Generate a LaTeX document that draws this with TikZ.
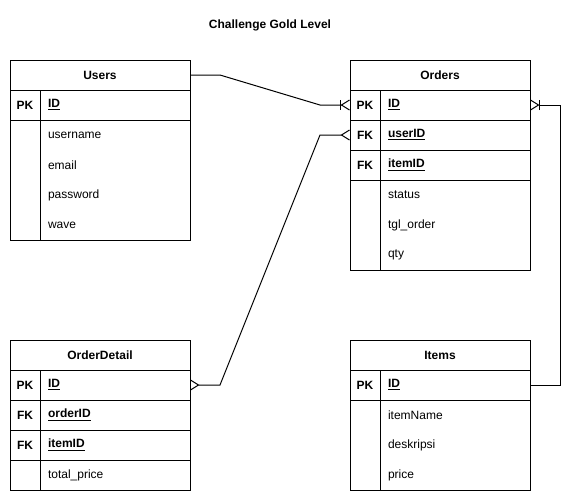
\documentclass[tikz,border=0pt]{standalone}
\usepackage{fontspec}
\setmainfont{Liberation Sans}
\usetikzlibrary{positioning,arrows.meta}

\tikzset{
  crowfoot/.tip={Straight Barb[reversed, length=6pt, width=7.5pt, line width=0.75pt]},
  onebar/.tip={Bar[width=7.5pt, sep=0pt, line width=0.75pt]}
}

\begin{document}
\begin{tikzpicture}[x=0.75pt, y=-0.75pt, line width=0.75pt,
  every node/.style={font=\fontsize{9}{11}\selectfont, outer sep=0pt, inner sep=0pt},
  head/.style={draw, minimum width=135pt, minimum height=22.5pt, font=\fontsize{9}{11}\selectfont\bfseries},
  key/.style={draw, minimum width=22.5pt, minimum height=22.5pt, font=\fontsize{9}{11}\selectfont\bfseries},
  field/.style={minimum height=22.5pt, text width=100.5pt, inner xsep=6pt, align=left},
  keyfield/.style={field, draw, font=\fontsize{9}{11}\selectfont\bfseries}]
  \useasboundingbox (0,0) rectangle (579,501);

  \node[font=\fontsize{9}{11}\selectfont\bfseries] (title) at (270,25) {Challenge Gold Level};

  % Users
  \node[head] (users) at (100,75) {Users};
  \node[key] (uPK) at (25,105) {PK};
  \node[keyfield, right=0pt of uPK] (uID) {\underline{ID}};
  \node[key, minimum height=90pt, below=0pt of uPK] (uKey) {};
  \node[field, anchor=north west] (uName) at (uKey.north east) {username};
  \node[field, below=0pt of uName] (uEmail) {email};
  \node[field, below=0pt of uEmail] (uPass) {password};
  \node[field, below=0pt of uPass] (uWave) {wave};
  \draw (uKey.north east) rectangle (uWave.south east);

  % Orders
  \node[head] (orders) at (440,75) {Orders};
  \node[key] (oPK) at (365,105) {PK};
  \node[keyfield, right=0pt of oPK] (oID) {\underline{ID}};
  \node[key, below=0pt of oPK] (oFK1) {FK};
  \node[keyfield, right=0pt of oFK1] (oUser) {\underline{userID}};
  \node[key, below=0pt of oFK1] (oFK2) {FK};
  \node[keyfield, right=0pt of oFK2] (oItem) {\underline{itemID}};
  \node[key, minimum height=67.5pt, below=0pt of oFK2] (oKey) {};
  \node[field, anchor=north west] (oStatus) at (oKey.north east) {status};
  \node[field, below=0pt of oStatus] (oTgl) {tgl\_order};
  \node[field, below=0pt of oTgl] (oQty) {qty};
  \draw (oKey.north east) rectangle (oQty.south east);

  % OrderDetail
  \node[head] (detail) at (100,355) {OrderDetail};
  \node[key] (dPK) at (25,385) {PK};
  \node[keyfield, right=0pt of dPK] (dID) {\underline{ID}};
  \node[key, below=0pt of dPK] (dFK1) {FK};
  \node[keyfield, right=0pt of dFK1] (dOrder) {\underline{orderID}};
  \node[key, below=0pt of dFK1] (dFK2) {FK};
  \node[keyfield, right=0pt of dFK2] (dItem) {\underline{itemID}};
  \node[key, below=0pt of dFK2] (dKey) {};
  \node[field, draw, right=0pt of dKey] (dTotal) {total\_price};

  % Items
  \node[head] (items) at (440,355) {Items};
  \node[key] (iPK) at (365,385) {PK};
  \node[keyfield, right=0pt of iPK] (iID) {\underline{ID}};
  \node[key, minimum height=67.5pt, below=0pt of iPK] (iKey) {};
  \node[field, anchor=north west] (iName) at (iKey.north east) {itemName};
  \node[field, below=0pt of iName] (iDesc) {deskripsi};
  \node[field, below=0pt of iDesc] (iPrice) {price};
  \draw (iKey.north east) rectangle (iPrice.south east);

  % relations
  \draw[-{onebar[] crowfoot[]}] (users.east) -- ++(30,0) -- ([xshift=-22.5pt]oPK.west) -- (oPK.west);
  \draw[{crowfoot[]}-{crowfoot[]}] (dID.east) -- ++(30,0) -- ([xshift=-22.5pt]oFK1.west) -- (oFK1.west);
  \draw[-{onebar[] crowfoot[]}] (iID.east) -- ++(30,0) |- (oID.east);
\end{tikzpicture}
\end{document}
